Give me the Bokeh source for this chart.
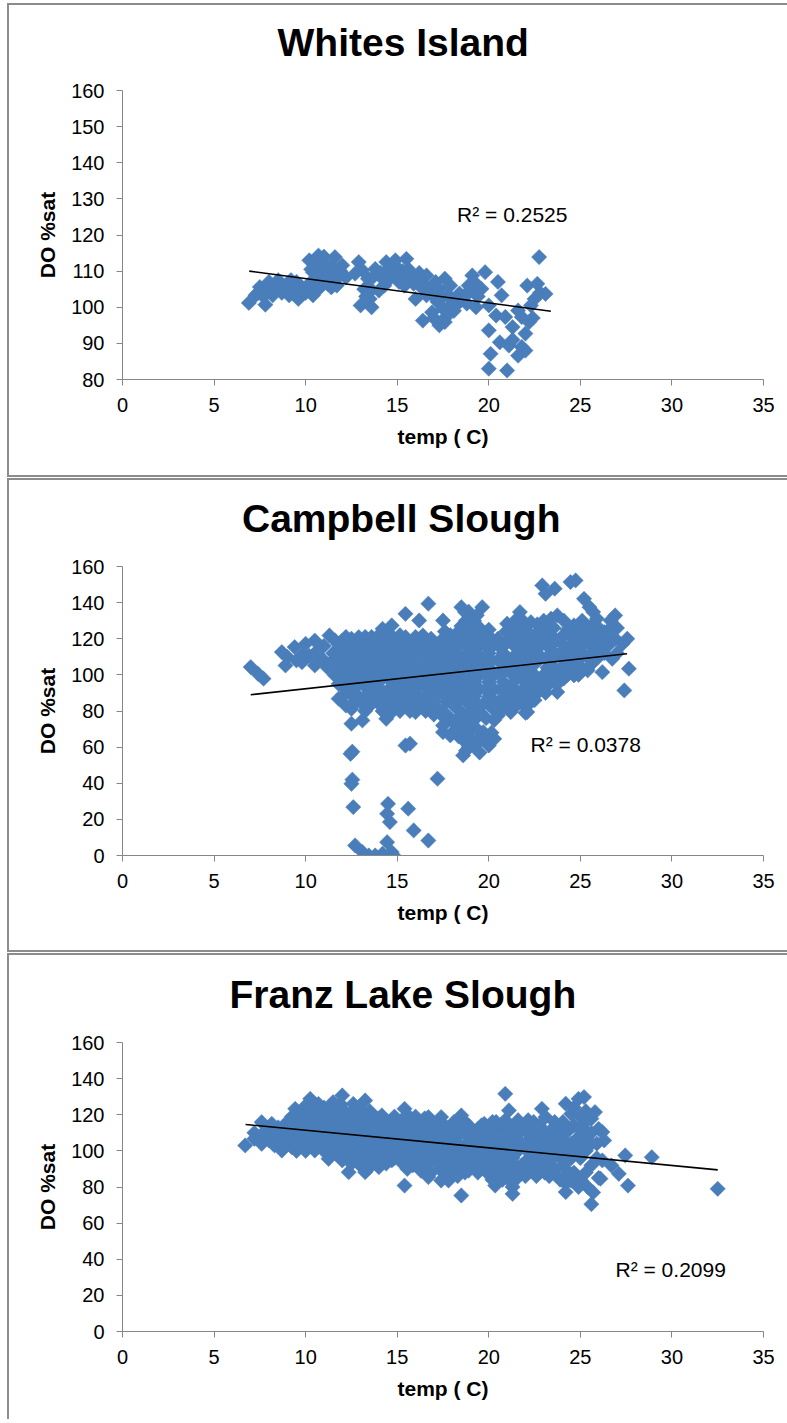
import numpy as np
from bokeh.plotting import figure
from bokeh.layouts import column
from bokeh.models import Range1d, Label, FixedTicker, Title
from bokeh.embed import file_html
from bokeh.resources import INLINE

# ---------------- data ----------------
titles = ["Whites Island", "Campbell Slough", "Franz Lake Slough"]
r2_texts = ["R\u00b2 = 0.2525", "R\u00b2 = 0.0378", "R\u00b2 = 0.2099"]
x_ticks = [0, 5, 10, 15, 20, 25, 30, 35]
y_ticks_ws = [80, 90, 100, 110, 120, 130, 140, 150, 160]
y_ticks_cs = [0, 20, 40, 60, 80, 100, 120, 140, 160]

# (temp C, DO %sat)
whites_island = [
    (6.9, 101.2), (7.26, 103.3), (7.5, 105.6), (7.8, 100.7), (7.7, 103.0), (8.0, 107.0), (8.2, 103.3),
    (8.0, 105.0), (8.4, 106.0), (8.7, 106.0), (8.7, 104.0), (9.1, 103.3), (9.0, 106.5), (9.3, 105.0),
    (9.5, 107.0), (9.6, 102.3), (9.8, 104.5), (10.1, 105.6), (10.4, 103.3), (10.7, 105.0), (10.2, 113.0),
    (10.3, 110.5), (10.5, 112.0), (10.7, 114.3), (10.9, 111.0), (11.1, 112.0), (11.0, 108.8), (11.3, 110.0),
    (11.6, 113.9), (11.4, 111.5), (11.5, 108.3), (11.7, 106.0), (11.4, 105.5), (11.9, 110.0), (12.0, 111.6),
    (12.2, 108.3), (10.4, 109.7), (10.8, 107.5), (10.2, 106.5),
    (12.9, 112.5), (12.7, 109.3), (13.0, 100.5), (13.2, 105.0), (13.5, 102.3), (13.6, 100.0), (14.0, 104.6),
    (13.4, 107.9), (13.8, 110.6), (13.1, 110.2), (14.4, 112.5), (14.7, 109.7), (14.2, 107.9), (14.5, 110.5),
    (14.9, 113.0), (15.1, 107.0), (15.3, 110.0), (15.5, 113.4), (15.6, 110.6), (15.8, 108.0), (16.0, 108.3),
    (16.3, 105.6), (16.0, 102.3), (16.6, 108.8), (16.4, 106.5), (17.1, 107.0), (16.8, 105.0), (16.6, 103.3),
    (16.4, 96.3), (16.9, 98.6), (17.3, 95.0), (17.6, 95.9), (17.5, 99.6), (17.2, 101.5), (17.8, 103.3),
    (17.9, 100.5), (17.6, 107.9), (17.9, 106.0), (18.2, 100.5), (18.5, 102.0), (18.7, 103.3), (19.1, 108.8),
    (18.9, 106.0), (19.3, 100.0), (19.6, 105.1), (19.8, 109.7), (20.0, 100.5), (20.5, 107.0), (20.7, 103.3),
    (20.0, 93.6), (20.4, 97.7), (20.1, 87.1), (20.0, 83.0), (21.0, 82.5), (20.6, 90.3), (21.1, 89.4),
    (21.6, 86.6), (21.3, 94.5), (21.8, 97.3), (22.2, 95.9), (22.0, 92.7), (21.6, 99.1), (22.1, 106.0),
    (22.65, 106.5), (22.75, 113.9), (23.1, 103.7), (22.5, 102.3), (20.9, 97.3), (21.3, 91.0), (21.8, 89.0),
    (22.0, 88.0), (22.3, 100.5), (22.8, 104.0), (22.4, 97.0),
    (7.4, 104.0), (7.9, 104.5), (8.3, 104.8), (8.5, 107.5), (8.9, 105.0), (9.2, 107.5), (9.4, 103.5),
    (9.7, 106.0), (10.0, 104.0), (10.5, 106.8), (10.6, 108.5), (11.2, 106.5), (11.8, 108.5), (11.0, 114.0),
    (13.3, 103.0), (13.6, 104.8), (13.7, 108.5), (14.1, 109.5), (14.3, 106.0), (14.6, 108.0), (15.0, 111.0),
    (15.2, 108.5), (15.4, 106.0), (15.9, 106.5), (16.2, 109.5), (16.5, 105.0), (17.0, 103.0), (17.3, 105.0),
    (17.4, 102.5), (18.0, 102.0), (18.4, 103.8), (18.8, 101.0), (19.0, 104.5), (19.4, 103.0), (19.2, 107.0),
    (17.0, 97.0), (17.7, 97.5), (18.1, 99.0),
]

campbell_slough = [
    (7.0, 104.3), (7.4, 100.6), (7.7, 97.9),
    (8.7, 112.6), (8.9, 105.2), (9.0, 110.0),
    (9.4, 115.4), (9.5, 108.0), (9.8, 107.0), (9.9, 112.0), (10.0, 117.2), (10.2, 110.5), (10.5, 119.0),
    (10.5, 105.2), (10.6, 113.0), (10.9, 108.9), (11.0, 116.0), (11.3, 121.8), (11.2, 104.0), (11.6, 119.1),
    (11.5, 112.0), (11.6, 99.7), (11.4, 107.0),
    (11.8, 86.8), (11.8, 95.0), (11.8, 103.0), (11.8, 110.0), (11.8, 117.0),
    (12.2, 83.0), (12.2, 92.0), (12.2, 100.0), (12.2, 108.0), (12.2, 115.0), (12.2, 121.0),
    (12.5, 81.2), (12.5, 73.0), (12.5, 89.0), (12.5, 97.0), (12.5, 105.0), (12.5, 112.0), (12.5, 120.0),
    (12.45, 56.3), (12.55, 57.5), (12.5, 39.7), (12.55, 42.0), (12.6, 26.8), (12.7, 5.6),
    (12.9, 88.0), (12.9, 96.0), (12.9, 104.0), (12.9, 111.0), (12.9, 120.9),
    (13.1, 74.8), (13.1, 84.0), (13.1, 100.0), (13.1, 116.0), (13.1, 1.9),
    (13.4, 92.0), (13.4, 99.0), (13.4, 107.0), (13.4, 114.0), (13.4, 118.0), (13.45, 0.0),
    (13.8, 86.8), (13.8, 95.0), (13.8, 103.0), (13.8, 110.0), (13.8, 119.0), (13.8, 0.0),
    (14.2, 80.0), (14.2, 90.0), (14.2, 98.0), (14.2, 106.0), (14.2, 113.0), (14.2, 125.5), (14.2, 1.0),
    (14.4, 75.7), (14.4, 85.0), (14.4, 102.0), (14.4, 118.0), (14.5, 28.6), (14.45, 23.1), (14.45, 7.4),
    (14.7, 79.4), (14.7, 89.0), (14.7, 96.0), (14.7, 110.0), (14.7, 127.4), (14.7, 121.0), (14.6, 18.5),
    (14.7, 1.9), (14.8, 0.0),
    (15.0, 84.0), (15.0, 92.0), (15.0, 100.0), (15.0, 107.0), (15.0, 115.0), (15.0, 120.0),
    (15.3, 85.0), (15.3, 96.0), (15.3, 104.0), (15.3, 112.0), (15.3, 118.0),
    (15.45, 60.9), (15.45, 133.8), (15.45, 120.9), (15.7, 61.9), (15.7, 80.0), (15.7, 88.0), (15.7, 101.0),
    (15.7, 109.0), (15.7, 116.0), (15.6, 25.9), (15.9, 13.9),
    (16.0, 79.4), (16.0, 92.0), (16.0, 97.0), (16.0, 105.0), (16.0, 113.0), (16.0, 121.0),
    (16.2, 130.1), (16.2, 86.0), (16.2, 110.0),
    (16.4, 83.0), (16.4, 95.0), (16.4, 102.0), (16.4, 117.0), (16.4, 121.8),
    (16.7, 83.1), (16.7, 90.0), (16.7, 98.0), (16.7, 106.0), (16.7, 113.0), (16.7, 139.4), (16.7, 8.3),
    (17.0, 78.0), (17.0, 86.0), (17.0, 94.0), (17.0, 101.0), (17.0, 109.0), (17.0, 118.1),
    (17.2, 42.5),
    (17.3, 90.0), (17.3, 98.0), (17.3, 105.0), (17.3, 113.0),
    (17.5, 68.3), (17.5, 72.0), (17.5, 80.0), (17.5, 130.1), (17.5, 120.0),
    (17.7, 85.0), (17.7, 94.0), (17.7, 101.0), (17.7, 109.0), (17.7, 116.0),
    (17.9, 66.5), (17.9, 76.0), (17.9, 88.0), (17.9, 97.0), (17.9, 105.0), (17.9, 122.0),
    (18.2, 70.0), (18.2, 82.0), (18.2, 92.0), (18.2, 100.0), (18.2, 112.0), (18.2, 118.0),
    (18.5, 79.4), (18.5, 137.5), (18.5, 88.0), (18.5, 96.0), (18.5, 104.0), (18.5, 127.0), (18.5, 120.0),
    (18.6, 55.4), (18.6, 64.0), (18.6, 72.0), (18.7, 134.8), (18.6, 110.0),
    (18.9, 60.0), (18.9, 68.0), (18.9, 84.0), (18.9, 92.0), (18.9, 100.0), (18.9, 115.0), (18.9, 124.0),
    (18.9, 135.0),
    (19.2, 60.9), (19.2, 75.0), (19.2, 88.0), (19.2, 96.0), (19.2, 105.0), (19.2, 110.0), (19.2, 120.0),
    (19.2, 130.0),
    (19.5, 79.4), (19.5, 65.0), (19.5, 57.0), (19.5, 92.0), (19.5, 100.0), (19.5, 116.0), (19.5, 126.0),
    (19.64, 137.5),
    (19.7, 68.3), (19.7, 84.0), (19.7, 108.0), (19.7, 120.0),
    (20.0, 60.9), (20.0, 63.0), (20.0, 88.0), (20.0, 96.0), (20.0, 104.0), (20.0, 112.0), (20.0, 125.0),
    (20.3, 64.6), (20.3, 75.0), (20.3, 92.0), (20.3, 100.0), (20.3, 117.0),
    (20.5, 77.5), (20.5, 85.0), (20.5, 108.0), (20.5, 120.0),
    (20.8, 82.0), (20.8, 96.0), (20.8, 103.0), (20.8, 112.0),
    (21.0, 128.3), (21.0, 88.0), (21.0, 118.0),
    (21.2, 79.4), (21.2, 94.0), (21.2, 101.0), (21.2, 108.0), (21.2, 124.0),
    (21.55, 131.1), (21.55, 84.0), (21.55, 90.0), (21.55, 98.0), (21.55, 112.0), (21.55, 120.0),
    (21.7, 134.8), (21.7, 104.0), (21.7, 126.0),
    (22.0, 79.0), (22.0, 88.0), (22.0, 96.0), (22.0, 110.0), (22.0, 118.0),
    (22.1, 79.4), (22.1, 102.0), (22.1, 124.0),
    (22.3, 129.2), (22.3, 92.0), (22.3, 113.0),
    (22.5, 86.0), (22.5, 100.0), (22.5, 106.0), (22.5, 120.0),
    (22.8, 93.2), (22.8, 109.0), (22.8, 116.0), (22.8, 125.0),
    (22.92, 149.5),
    (23.0, 100.0), (23.0, 130.0), (23.0, 121.0),
    (23.1, 144.9), (23.1, 90.0),
    (23.4, 131.1), (23.4, 97.0), (23.4, 106.0), (23.4, 114.0), (23.4, 122.0),
    (23.6, 147.7),
    (23.74, 132.9), (23.74, 90.5), (23.74, 95.0),
    (23.9, 103.0), (23.9, 112.0), (23.9, 120.0),
    (24.3, 114.5), (24.3, 100.0), (24.3, 106.0), (24.3, 125.0),
    (24.46, 151.4),
    (24.65, 99.7), (24.65, 127.4), (24.65, 108.0), (24.65, 118.0),
    (24.74, 152.3),
    (25.1, 103.4), (25.1, 112.0), (25.1, 120.0), (25.1, 130.0),
    (25.2, 142.1),
    (25.3, 118.1), (25.3, 126.0),
    (25.4, 123.7), (25.4, 102.5), (25.4, 110.0),
    (25.5, 137.5),
    (25.7, 134.8), (25.7, 115.0), (25.7, 128.0),
    (25.9, 131.1), (25.9, 122.0),
    (26.2, 101.5), (26.2, 118.0),
    (26.3, 123.7), (26.3, 112.0),
    (26.65, 130.1), (26.65, 126.0),
    (26.74, 108.9),
    (26.9, 132.9), (26.9, 120.0),
    (27.3, 117.2), (27.4, 91.4), (27.56, 120.0), (27.65, 103.4),
    (12.0, 88.0), (12.0, 96.0), (12.0, 104.0), (12.0, 112.0), (12.0, 119.0),
    (12.7, 85.0), (12.7, 93.0), (12.7, 101.0), (12.7, 108.0), (12.7, 116.0),
    (13.25, 80.0), (13.25, 88.0), (13.25, 95.0), (13.25, 103.0), (13.25, 110.0), (13.25, 121.0),
    (13.6, 84.0), (13.6, 90.0), (13.6, 98.0), (13.6, 106.0), (13.6, 114.0), (13.6, 121.0),
    (14.0, 84.0), (14.0, 93.0), (14.0, 101.0), (14.0, 109.0), (14.0, 117.0), (14.0, 122.0),
    (14.55, 80.0), (14.55, 92.0), (14.55, 99.0), (14.55, 106.0), (14.55, 114.0), (14.55, 123.0),
    (14.85, 84.0), (14.85, 102.0), (14.85, 116.0),
    (15.15, 80.0), (15.15, 88.0), (15.15, 96.0), (15.15, 111.0), (15.15, 122.0),
    (15.5, 84.0), (15.5, 92.0), (15.5, 100.0), (15.5, 108.0), (15.5, 115.0),
    (15.85, 84.0), (15.85, 96.0), (15.85, 104.0), (15.85, 112.0), (15.85, 119.0),
    (16.1, 82.0), (16.1, 89.0), (16.1, 101.0), (16.1, 108.0), (16.1, 117.0),
    (16.55, 80.0), (16.55, 87.0), (16.55, 94.0), (16.55, 102.0), (16.55, 110.0), (16.55, 118.0),
    (16.85, 80.0), (16.85, 88.0), (16.85, 96.0), (16.85, 104.0), (16.85, 112.0), (16.85, 120.0),
    (17.15, 82.0), (17.15, 94.0), (17.15, 101.0), (17.15, 116.0),
    (17.6, 76.0), (17.6, 89.0), (17.6, 97.0), (17.6, 105.0), (17.6, 112.0), (17.6, 124.0),
    (18.05, 74.0), (18.05, 84.0), (18.05, 94.0), (18.05, 102.0), (18.05, 109.0), (18.05, 114.0),
    (18.35, 66.0), (18.35, 76.0), (18.35, 86.0), (18.35, 98.0), (18.35, 106.0), (18.35, 116.0), (18.35, 124.0),
    (18.75, 58.0), (18.75, 76.0), (18.75, 88.0), (18.75, 96.0), (18.75, 106.0), (18.75, 118.0), (18.75, 130.0),
    (19.05, 64.0), (19.05, 72.0), (19.05, 80.0), (19.05, 100.0), (19.05, 108.0), (19.05, 127.0),
    (19.35, 62.0), (19.35, 70.0), (19.35, 84.0), (19.35, 104.0), (19.35, 112.0), (19.35, 122.0), (19.35, 133.0),
    (19.85, 64.0), (19.85, 76.0), (19.85, 92.0), (19.85, 100.0), (19.85, 116.0),
    (20.15, 68.0), (20.15, 82.0), (20.15, 108.0), (20.15, 120.0),
    (20.65, 80.0), (20.65, 92.0), (20.65, 100.0), (20.65, 115.0),
    (20.95, 84.0), (20.95, 106.0), (20.95, 124.0),
    (21.4, 82.0), (21.4, 88.0), (21.4, 105.0), (21.4, 116.0), (21.4, 128.0),
    (21.85, 84.0), (21.85, 92.0), (21.85, 100.0), (21.85, 107.0), (21.85, 114.0), (21.85, 122.0), (21.85, 130.0),
    (22.2, 84.0), (22.2, 97.0), (22.2, 108.0), (22.2, 118.0),
    (22.65, 90.0), (22.65, 96.0), (22.65, 112.0), (22.65, 128.0),
    (23.2, 94.0), (23.2, 104.0), (23.2, 110.0), (23.2, 117.0), (23.2, 126.0),
    (23.55, 100.0), (23.55, 110.0), (23.55, 118.0), (23.55, 126.0),
    (24.1, 98.0), (24.1, 108.0), (24.1, 116.0), (24.1, 122.0), (24.1, 130.0),
    (24.5, 104.0), (24.5, 112.0), (24.5, 121.0),
    (24.9, 100.0), (24.9, 108.0), (24.9, 116.0), (24.9, 124.0),
    (25.6, 106.0), (25.6, 120.0), (25.6, 124.0),
    (26.0, 110.0), (26.0, 116.0), (26.0, 126.0),
    (26.5, 116.0), (26.5, 121.0),
    (27.0, 112.0), (27.0, 126.0),
]

franz_lake_slough = [
    (6.7, 103.0), (7.2, 106.7), (7.2, 110.0), (7.6, 115.9), (7.6, 103.9), (7.6, 109.0),
    (8.0, 105.8), (8.0, 112.0), (8.15, 115.0), (8.5, 108.0), (8.5, 113.0), (8.7, 100.2), (8.7, 105.0),
    (9.0, 110.0), (9.0, 116.0), (9.0, 104.0), (9.25, 102.0), (9.25, 107.0), (9.25, 119.0),
    (9.43, 123.3), (9.43, 113.0), (9.7, 105.0), (9.7, 110.0), (9.7, 118.0),
    (10.0, 100.0), (10.0, 108.0), (10.0, 114.0), (10.0, 120.0), (10.0, 125.0),
    (10.25, 128.8), (10.25, 103.0), (10.25, 117.0),
    (10.5, 100.2), (10.5, 108.0), (10.5, 112.0), (10.5, 122.0),
    (10.7, 126.0), (10.7, 105.0), (10.7, 116.0),
    (11.0, 100.0), (11.0, 110.0), (11.0, 119.0), (11.0, 124.0),
    (11.25, 95.6), (11.25, 104.0), (11.25, 113.0),
    (11.5, 99.0), (11.5, 108.0), (11.5, 116.0), (11.5, 121.0), (11.5, 127.0),
    (11.8, 103.0), (11.8, 111.0), (11.8, 118.0),
    (12.0, 94.7), (12.0, 130.7), (12.0, 100.0), (12.0, 115.0), (12.0, 123.0),
    (12.35, 88.2), (12.35, 97.0), (12.35, 106.0), (12.35, 112.0), (12.35, 119.0),
    (12.6, 102.0), (12.6, 110.0), (12.6, 116.0), (12.6, 126.0),
    (12.9, 93.0), (12.9, 99.0), (12.9, 105.0), (12.9, 113.0), (12.9, 124.2),
    (13.25, 88.2), (13.25, 127.9), (13.25, 96.0), (13.25, 108.0), (13.25, 118.0),
    (13.5, 91.0), (13.5, 101.0), (13.5, 112.0), (13.5, 122.0),
    (13.8, 95.0), (13.8, 104.0), (13.8, 110.0), (13.8, 117.0),
    (14.0, 91.0), (14.0, 99.0), (14.0, 114.0), (14.16, 119.6), (14.16, 107.0),
    (14.4, 93.0), (14.4, 101.0), (14.4, 112.0),
    (14.7, 94.7), (14.7, 104.0), (14.7, 109.0), (14.7, 117.0),
    (15.0, 98.0), (15.0, 106.0), (15.0, 113.0),
    (15.4, 80.8), (15.4, 123.3), (15.4, 94.0), (15.4, 102.0), (15.4, 110.0), (15.4, 117.0),
    (15.7, 98.0), (15.7, 106.0), (15.7, 114.0),
    (16.0, 94.0), (16.0, 102.0), (16.0, 110.0), (16.0, 119.0),
    (16.3, 89.0), (16.3, 97.0), (16.3, 106.0), (16.3, 115.0),
    (16.7, 85.5), (16.7, 118.7), (16.7, 93.0), (16.7, 101.0), (16.7, 109.0),
    (17.0, 97.0), (17.0, 105.0), (17.0, 113.0),
    (17.4, 83.6), (17.4, 118.7), (17.4, 90.0), (17.4, 99.0), (17.4, 108.0),
    (17.8, 83.6), (17.8, 94.0), (17.8, 103.0), (17.8, 112.0),
    (18.1, 89.0), (18.1, 98.0), (18.1, 107.0), (18.1, 116.0),
    (18.5, 75.3), (18.5, 119.6), (18.5, 93.0), (18.5, 101.0), (18.5, 110.0),
    (18.9, 89.1), (18.9, 97.0), (18.9, 105.0), (18.9, 114.0),
    (19.2, 93.0), (19.2, 101.0), (19.2, 110.0),
    (19.6, 91.0), (19.6, 114.1), (19.6, 98.0), (19.6, 106.0),
    (19.9, 88.0), (19.9, 95.0), (19.9, 103.0), (19.9, 111.0),
    (20.2, 84.0), (20.2, 92.0), (20.2, 100.0), (20.2, 108.0), (20.2, 116.0),
    (20.35, 80.8),
    (20.6, 88.0), (20.6, 96.0), (20.6, 104.0), (20.6, 112.0),
    (20.9, 131.6), (20.9, 92.0), (20.9, 100.0), (20.9, 117.0),
    (21.1, 122.4), (21.1, 84.0), (21.1, 108.0),
    (21.3, 76.2), (21.3, 80.0), (21.3, 96.0), (21.3, 104.0), (21.3, 113.0),
    (21.6, 88.0), (21.6, 100.0), (21.6, 110.0), (21.6, 117.0),
    (22.0, 86.0), (22.0, 94.0), (22.0, 104.0), (22.0, 115.0),
    (22.3, 90.0), (22.3, 98.0), (22.3, 108.0), (22.3, 112.0),
    (22.6, 86.0), (22.6, 95.0), (22.6, 102.0), (22.6, 110.0),
    (22.9, 123.3), (22.9, 90.0), (22.9, 100.0), (22.9, 112.0),
    (23.1, 118.7), (23.1, 106.0),
    (23.3, 86.0), (23.3, 94.0), (23.3, 102.0),
    (23.6, 90.0), (23.6, 98.0), (23.6, 108.0), (23.6, 116.0),
    (23.9, 84.0), (23.9, 96.0), (23.9, 104.0), (23.9, 110.0),
    (24.2, 126.1), (24.2, 77.2), (24.2, 82.0), (24.2, 90.0), (24.2, 100.0),
    (24.35, 111.3),
    (24.5, 120.5), (24.5, 83.6), (24.5, 96.0), (24.5, 104.0),
    (24.9, 128.8), (24.9, 107.6), (24.9, 80.0),
    (25.2, 129.8), (25.2, 115.0),
    (25.4, 79.9), (25.4, 110.0),
    (25.6, 117.8), (25.6, 70.5), (25.7, 77.0), (25.8, 121.5),
    (26.0, 112.2), (26.0, 85.0), (26.1, 84.6), (26.2, 110.4), (26.2, 94.7), (26.3, 105.8),
    (26.7, 91.9), (27.1, 87.3), (27.45, 97.5), (27.6, 80.8), (28.9, 96.5), (32.5, 79.0),
    (8.3, 103.0), (8.3, 110.0), (8.8, 112.0), (9.1, 113.0), (9.5, 100.0), (9.55, 116.0), (9.85, 102.0),
    (9.85, 113.0), (9.85, 122.0), (10.15, 106.0), (10.15, 111.0), (10.35, 114.0), (10.35, 120.0),
    (10.6, 103.0), (10.6, 118.0), (10.85, 108.0), (10.85, 113.0), (10.85, 121.0), (11.1, 103.0),
    (11.1, 116.0), (11.4, 102.0), (11.4, 111.0), (11.4, 124.0), (11.65, 105.0), (11.65, 113.0),
    (11.65, 120.0), (11.9, 97.0), (11.9, 108.0), (11.9, 126.0), (12.2, 103.0), (12.2, 109.0),
    (12.2, 116.0), (12.2, 121.0), (12.5, 93.0), (12.5, 99.0), (12.5, 113.0), (12.5, 121.0),
    (12.75, 96.0), (12.75, 108.0), (12.75, 118.0), (13.1, 91.0), (13.1, 102.0), (13.1, 111.0),
    (13.1, 121.0), (13.4, 94.0), (13.4, 105.0), (13.4, 116.0), (13.65, 98.0), (13.65, 107.0),
    (13.65, 114.0), (13.65, 120.0), (13.95, 96.0), (13.95, 103.0), (13.95, 110.0), (13.95, 118.0),
    (14.25, 96.0), (14.25, 104.0), (14.25, 115.0), (14.55, 98.0), (14.55, 107.0), (14.55, 114.0),
    (14.85, 96.0), (14.85, 101.0), (14.85, 111.0), (14.85, 119.0), (15.2, 94.0), (15.2, 100.0),
    (15.2, 109.0), (15.2, 116.0), (15.55, 90.0), (15.55, 106.0), (15.55, 113.0), (15.55, 120.0),
    (15.85, 92.0), (15.85, 101.0), (15.85, 110.0), (15.85, 117.0), (16.15, 98.0), (16.15, 106.0),
    (16.15, 114.0), (16.5, 92.0), (16.5, 99.0), (16.5, 105.0), (16.5, 112.0), (16.5, 118.0),
    (16.85, 88.0), (16.85, 97.0), (16.85, 114.0), (17.2, 93.0), (17.2, 101.0), (17.2, 110.0),
    (17.2, 116.0), (17.6, 87.0), (17.6, 96.0), (17.6, 105.0), (17.6, 114.0), (17.95, 92.0),
    (17.95, 100.0), (17.95, 109.0), (18.3, 86.0), (18.3, 95.0), (18.3, 104.0), (18.3, 113.0),
    (18.7, 88.0), (18.7, 95.0), (18.7, 103.0), (18.7, 110.0), (18.7, 116.0), (19.05, 92.0),
    (19.05, 101.0), (19.05, 108.0), (19.4, 88.0), (19.4, 96.0), (19.4, 104.0), (19.4, 112.0),
    (19.75, 93.0), (19.75, 100.0), (19.75, 108.0), (19.75, 115.0), (20.05, 90.0), (20.05, 97.0),
    (20.05, 104.0), (20.05, 112.0), (20.4, 86.0), (20.4, 100.0), (20.4, 108.0), (20.4, 116.0),
    (20.75, 84.0), (20.75, 92.0), (20.75, 100.0), (20.75, 109.0), (20.75, 115.0), (21.05, 88.0),
    (21.05, 96.0), (21.05, 104.0), (21.05, 113.0), (21.45, 84.0), (21.45, 92.0), (21.45, 100.0),
    (21.45, 108.0), (21.8, 92.0), (21.8, 104.0), (21.8, 112.0), (22.15, 88.0), (22.15, 100.0),
    (22.15, 110.0), (22.15, 117.0), (22.45, 92.0), (22.45, 104.0), (22.45, 116.0), (22.75, 94.0),
    (22.75, 106.0), (22.75, 114.0), (23.05, 88.0), (23.05, 96.0), (23.05, 103.0), (23.05, 110.0),
    (23.45, 90.0), (23.45, 98.0), (23.45, 106.0), (23.45, 112.0), (23.75, 86.0), (23.75, 100.0),
    (23.75, 113.0), (24.05, 92.0), (24.05, 98.0), (24.05, 106.0), (24.05, 116.0), (24.3, 86.0),
    (24.3, 95.0), (24.3, 104.0), (24.65, 88.0), (24.65, 100.0), (24.65, 114.0), (24.65, 124.0),
    (25.0, 84.0), (25.0, 96.0), (25.0, 103.0), (25.0, 112.0), (25.0, 119.0), (25.3, 88.0),
    (25.3, 100.0), (25.3, 106.0), (25.3, 122.0), (25.6, 92.0), (25.6, 104.0), (25.6, 110.0),
    (25.9, 96.0), (25.9, 104.0),
]

# linear trend line end points (temp, DO %sat)
trend_ws_x, trend_ws_y = [6.92, 23.39], [110.0, 98.9]
trend_cs_x, trend_cs_y = [7.0, 27.55], [89.0, 111.7]
trend_fl_x, trend_fl_y = [6.72, 32.5], [114.6, 89.5]

# ---------------- styling ----------------
FONT = "Liberation Sans"
BLUE = "#4a7ebb"
AXIS_GREY = "#868686"
BORDER = "2px solid #8c8c8c"


def make_panel(title, title_offset, pts, tx, ty, r2, r2_pos, y_lo, y_ticks,
               height, top, bottom, margin_top, bottom_border=True):
    p = figure(width=780, height=height, output_backend="svg", toolbar_location=None,
               x_range=Range1d(0, 35), y_range=Range1d(y_lo, 160),
               min_border_left=113, min_border_right=26,
               min_border_top=top, min_border_bottom=bottom, title=None)
    styles = {"margin-left": "7px", "margin-top": f"{margin_top}px",
              "border-left": BORDER, "border-top": BORDER}
    if bottom_border:
        styles["border-bottom"] = BORDER
    p.styles = styles
    p.outline_line_color = None
    p.xgrid.visible = False
    p.ygrid.visible = False
    p.background_fill_color = None
    p.border_fill_color = None

    # blank spacer between frame and title, then the title itself
    spacer = Title(text=" ", text_font_size="1px", standoff=24)
    main_title = Title(text=title, align="left", offset=title_offset, text_font=FONT,
                       text_font_size="39px", text_font_style="bold", text_color="black",
                       standoff=0)
    p.add_layout(spacer, "above")
    p.add_layout(main_title, "above")

    for ax in (p.xaxis[0], p.yaxis[0]):
        ax.axis_line_color = AXIS_GREY
        ax.axis_line_width = 1
        ax.major_tick_line_color = AXIS_GREY
        ax.major_tick_out = 6
        ax.major_tick_in = 0
        ax.minor_tick_line_color = None
        ax.major_label_text_font = FONT
        ax.major_label_text_font_size = "20px"
        ax.major_label_text_color = "black"
        ax.axis_label_text_font = FONT
        ax.axis_label_text_font_size = "21px"
        ax.axis_label_text_font_style = "bold"
        ax.axis_label_text_color = "black"

    p.xaxis.ticker = FixedTicker(ticks=x_ticks)
    p.yaxis.ticker = FixedTicker(ticks=y_ticks)
    p.xaxis.axis_label = "temp ( C)"
    p.yaxis.axis_label = "DO %sat"
    p.xaxis.major_label_standoff = 12
    p.yaxis.major_label_standoff = 12
    p.xaxis.axis_label_standoff = 10
    p.yaxis.axis_label_standoff = 9

    xs = [a for a, b in pts]
    ys = [b for a, b in pts]
    p.scatter(xs, ys, marker="square", angle=np.pi / 4, size=10.8,
              fill_color=BLUE, line_color=BLUE, line_width=0.5)
    p.line(tx, ty, line_color="black", line_width=1.6)

    p.add_layout(Label(x=r2_pos[0], y=r2_pos[1], text=r2, text_align="left",
                       text_baseline="middle", text_font=FONT, text_font_size="21px",
                       text_color="black"))
    return p


p1 = make_panel(titles[0], 155, whites_island, trend_ws_x, trend_ws_y, r2_texts[0], (18.27, 125.7),
                80, y_ticks_ws, 474, 85, 100, 3)
p2 = make_panel(titles[1], 119.5, campbell_slough, trend_cs_x, trend_cs_y, r2_texts[1], (22.28, 61.2),
                0, y_ticks_cs, 474, 86, 99, 1)
p3 = make_panel(titles[2], 107, franz_lake_slough, trend_fl_x, trend_fl_y, r2_texts[2], (26.92, 34.1),
                0, y_ticks_cs, 466, 87, 90, 1, bottom_border=False)

layout = column(p1, p2, p3, spacing=0)
open("out.html", "w").write(file_html(layout, INLINE))
